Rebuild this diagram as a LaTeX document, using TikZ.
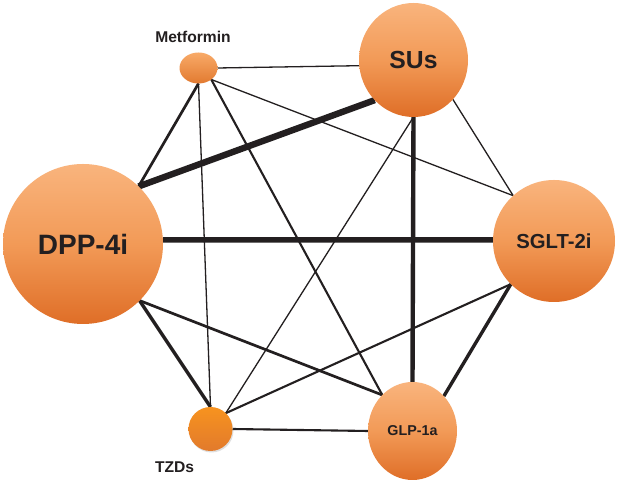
\documentclass[tikz,border=0pt]{standalone}
\usepackage{fontspec}
\setmainfont{Liberation Sans}
\usetikzlibrary{shapes.geometric,shadows}
\definecolor{ink}{HTML}{231F20}
\definecolor{ptop}{HTML}{F9B47D}
\definecolor{pmid}{HTML}{F29A57}
\definecolor{pbot}{HTML}{DF6E27}
\definecolor{ttop}{HTML}{F7931F}
\definecolor{tbot}{HTML}{E27A2C}
\definecolor{mtop}{HTML}{F8AA68}
\definecolor{mbot}{HTML}{E27A30}
\pgfdeclarelayer{bg}
\pgfdeclarelayer{edges}
\pgfsetlayers{bg,edges,main}
\begin{document}
\begin{tikzpicture}[x=1pt,y=1pt,
  drug/.style={inner sep=0pt, outer sep=0pt, text=ink, font=\bfseries,
    top color=ptop, bottom color=pbot, middle color=pmid},
  lbl/.style={inner sep=0pt, text=ink, font=\bfseries\fontsize{15.6}{17}\selectfont},
  wa/.style={draw=ink, line width=1.3pt},
  wb/.style={draw=ink, line width=2.1pt},
  wc/.style={draw=ink, line width=2.7pt},
  wd/.style={draw=ink, line width=3.4pt},
  we/.style={draw=ink, line width=4.4pt},
  wf/.style={draw=ink, line width=5.6pt},
  wg/.style={draw=ink, line width=6.4pt}]
\begin{pgfonlayer}{bg}
\fill[white] (0,0) rectangle (619,484);
\end{pgfonlayer}
\useasboundingbox (0,0) rectangle (619,484);

\node[drug, circle, minimum size=160pt, font=\bfseries\fontsize{28}{30}\selectfont] (dpp) at (83,240) {DPP-4i};
\node[drug, ellipse, minimum width=109pt, minimum height=114pt, font=\bfseries\fontsize{24.7}{26}\selectfont] (sus) at (413.5,424) {SUs};
\node[drug, circle, minimum size=122pt, font=\bfseries\fontsize{20.3}{22}\selectfont] (sglt) at (554,243) {SGLT-2i};
\node[drug, ellipse, minimum width=89pt, minimum height=98pt, font=\bfseries\fontsize{14.3}{16}\selectfont] (glp) at (412.5,53) {GLP-1a};
\node[ellipse, inner sep=0pt, outer sep=0pt, minimum width=38pt, minimum height=31pt, top color=mtop, bottom color=mbot] (met) at (198.5,416) {};
\node[circle, inner sep=0pt, outer sep=0pt, minimum size=44pt, top color=ttop, bottom color=tbot,
  drop shadow={opacity=0.25, shadow xshift=1pt, shadow yshift=-1.5pt}] (tzd) at (210.5,55) {};
\node[lbl] (metl) at (193,447) {Metformin};
\node[lbl] (tzdl) at (174.5,16.5) {TZDs};

\begin{pgfonlayer}{edges}
\draw[wa] (met.0) -- (sus.186);
\draw[wc] (met.270) -- (dpp.46);
\draw[wa] (met.270) -- (tzd.90);
\draw[wb] (met.318) -- (glp.130);
\draw[wa] (met.318) -- (sglt.132);
\draw[wg] (sus.226) -- (dpp.46);
\draw[wa] (sus.315) -- (sglt.132);
\draw[we] (sus.270) -- (glp.90);
\draw[wa] (sus.270) -- (tzd.46);
\draw[wf] (dpp.3) -- (sglt.179);
\draw[wd] (dpp.315) -- (tzd.90);
\draw[wc] (dpp.315) -- (glp.130);
\draw[wd] (sglt.225) -- (glp.48);
\draw[wb] (sglt.225) -- (tzd.46);
\draw[wb] (tzd.0) -- (glp.180);
\end{pgfonlayer}
\end{tikzpicture}
\end{document}
